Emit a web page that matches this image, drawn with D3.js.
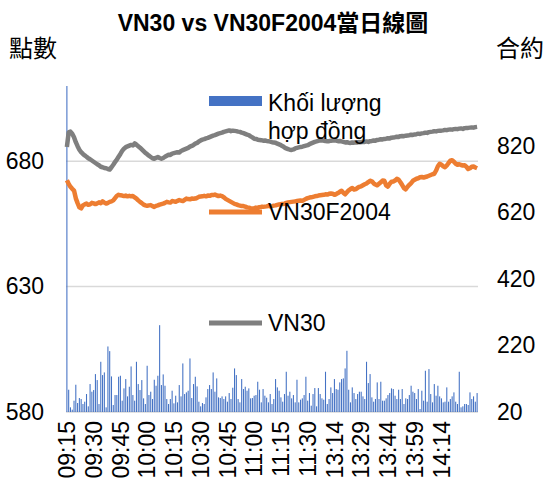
<!DOCTYPE html>
<html>
<head>
<meta charset="utf-8">
<script src="https://cdn.jsdelivr.net/npm/d3@7"></script>
<style>
  body { margin: 0; background: #fff; }
  svg { font-family: "Liberation Sans", Arial, "Noto Sans CJK TC", sans-serif; }
</style>
</head>
<body>
<div id="chart"></div>
<script>
// chart data

var titleText = "VN30 vs VN30F2004當日線圖";

// x tick labels, one every 15 minutes (1 point = 1 minute)
var tickLabels = ["09:15", "09:30", "09:45", "10:00", "10:15", "10:30", "10:45", "11:00",
    "11:15", "11:30", "13:14", "13:29", "13:44", "13:59", "14:14"];

var leftTicks = [580, 630, 680];
var rightTicks = [20, 220, 420, 620, 820];

// VN30 index (left axis)
var vn30 = [
    685.7, 691.5, 691.8, 691.0, 689.6, 687.6, 686.0, 684.6, 683.6, 682.9,
    682.3, 681.8, 681.2, 680.8, 680.3, 679.8, 679.3, 678.8, 678.4, 677.8,
    677.6, 677.3, 677.2, 676.9, 676.7, 677.6, 678.6, 679.7, 680.6, 681.8,
    682.9, 684.1, 685.0, 685.6, 685.9, 686.2, 686.5, 686.3, 687.1, 686.6,
    686.0, 685.4, 684.7, 684.0, 683.3, 682.8, 682.2, 681.7, 681.2, 681.0,
    681.4, 681.7, 681.3, 681.0, 681.3, 681.8, 682.2, 682.6, 682.5, 683.0,
    683.2, 683.4, 683.6, 683.5, 684.1, 684.4, 684.7, 685.0, 685.3, 685.8,
    686.1, 686.5, 687.0, 687.3, 687.9, 688.3, 688.6, 688.8, 689.1, 689.3,
    689.6, 689.9, 690.2, 690.4, 690.7, 691.0, 691.2, 691.4, 691.7, 691.9,
    692.1, 692.3, 692.0, 692.2, 692.1, 692.0, 691.8, 691.7, 691.4, 691.2,
    690.9, 690.6, 690.4, 689.9, 689.5, 689.0, 688.9, 688.6, 688.5, 688.4,
    688.2, 688.3, 688.1, 688.0, 687.8, 687.6, 687.5, 687.4, 687.0, 686.7,
    686.4, 686.0, 685.5, 685.1, 684.8, 684.6, 684.5, 684.7, 685.1, 685.3,
    685.5, 685.7, 685.8, 686.0, 686.2, 686.4, 686.8, 687.1, 687.4, 687.7,
    687.9, 688.1, 688.3, 688.4, 688.2, 688.1, 688.0, 688.0, 688.2, 688.3,
    688.4, 688.2, 688.0, 688.1, 687.9, 687.7, 687.5, 687.6, 687.4, 687.3,
    687.5, 687.4, 687.6, 687.5, 687.7, 687.6, 687.8, 687.7, 687.9, 687.7,
    688.0, 688.1, 688.3, 688.2, 688.5, 688.6, 688.8, 688.7, 688.9, 689.0,
    689.2, 689.1, 689.4, 689.5, 689.6, 689.8, 689.7, 690.0, 690.1, 690.0,
    690.2, 690.3, 690.4, 690.6, 690.5, 690.7, 690.8, 691.0, 690.9, 691.1,
    691.2, 691.4, 691.3, 691.6, 691.7, 691.8, 692.0, 691.9, 692.1, 692.2,
    692.2, 692.3, 692.5, 692.4, 692.6, 692.7, 692.6, 692.8, 692.9, 692.8,
    693.0, 693.1, 692.9, 693.2, 693.3, 693.3, 693.4, 693.5, 693.4, 693.6,
    693.7
];

// VN30F2004 futures (left axis)
var vn30f = [
    672.4, 671.0, 669.8, 669.0, 668.3, 665.2, 663.3, 661.6, 661.2, 662.4,
    662.8, 663.1, 662.6, 662.8, 663.4, 663.2, 662.9, 663.2, 663.6, 663.3,
    664.0, 663.5, 663.1, 663.4, 663.8, 664.0, 664.4, 665.3, 666.2, 666.6,
    666.4, 666.3, 666.1, 666.3, 666.0, 666.2, 666.0, 666.1, 665.6, 665.1,
    664.4, 663.8, 663.3, 662.7, 662.4, 662.2, 662.4, 662.5, 662.1, 661.8,
    662.2, 662.4, 662.7, 662.9, 663.1, 663.4, 663.8, 663.6, 663.5, 664.1,
    664.0, 663.8, 664.2, 664.5, 664.3, 664.1, 664.6, 665.1, 664.9, 664.8,
    665.1, 665.0, 665.1, 665.4, 665.8, 665.9, 666.0, 666.2, 666.0, 666.3,
    666.2, 666.5, 666.5, 666.7, 666.4, 666.1, 666.3, 666.1, 665.6, 665.0,
    664.6, 664.2, 663.8, 663.4, 663.0, 662.8, 662.5, 662.3, 662.1, 662.1,
    661.9, 661.6, 661.5, 661.3, 661.2, 661.3, 661.5, 661.4, 661.7, 661.8,
    661.8, 661.9, 662.0, 662.2, 662.0, 662.1, 662.3, 662.4, 662.6, 662.8,
    662.9, 662.9, 663.1, 663.4, 663.6, 663.7, 663.8, 663.9, 664.0, 664.1,
    664.2, 664.3, 664.2, 664.6, 665.0, 665.3, 665.5, 665.6, 665.8, 666.0,
    666.1, 666.3, 666.4, 666.5, 666.6, 666.8, 666.7, 667.0, 667.1, 667.0,
    666.6, 666.9, 667.3, 667.8, 668.2, 667.4, 666.8, 667.6, 668.4, 668.9,
    669.3, 668.7, 668.9, 669.4, 669.8, 670.0, 670.4, 670.8, 671.1, 671.7,
    672.2, 672.0, 671.2, 670.7, 670.4, 671.0, 671.6, 672.3, 672.2, 670.4,
    669.9, 671.0, 671.8, 671.9, 672.3, 673.0, 672.6, 671.6, 670.5, 669.3,
    668.8, 669.8, 670.6, 671.3, 672.2, 672.6, 673.0, 673.2, 673.6, 673.7,
    673.5, 673.7, 673.9, 674.2, 674.5, 674.8, 675.0, 676.3, 678.0, 679.0,
    678.6, 678.0, 677.6, 678.3, 679.3, 680.2, 680.4, 679.8, 679.0, 678.6,
    678.8, 678.5, 678.3, 678.4, 677.8, 676.9, 677.2, 677.8, 677.9, 677.5,
    677.2
];

// contract volume (right axis); the opening bar runs off the top
var volume = [
    1200,
    87, 34, 27, 54, 102, 47, 62, 59, 44, 51,
    74, 37, 104, 81, 86, 134, 116, 44, 171, 131,
    139, 34, 217, 203, 127, 41, 71, 71, 126, 129,
    54, 91, 119, 67, 96, 157, 71, 54, 171, 104,
    86, 116, 61, 44, 159, 71, 81, 59, 117, 99,
    129, 281, 101, 133, 99, 59, 44, 59, 84, 46,
    69, 49, 101, 67, 166, 74, 79, 84, 181, 62,
    104, 126, 97, 51, 37, 47, 44, 64, 89, 101,
    89, 139, 81, 121, 64, 62, 67, 59, 67, 51,
    77, 59, 93, 151, 131, 59, 49, 119, 89, 96,
    84, 91, 61, 62, 69, 71, 111, 87, 49, 89,
    69, 63, 49,
    74, 44, 59, 119, 94, 84, 64, 51, 74, 141,
    69, 81, 61, 71, 49, 117, 49, 57, 61, 71,
    126, 54, 77, 39, 74, 92, 37, 92, 74, 61,
    57, 141, 44, 59, 94, 77, 119, 89, 87, 109,
    119, 121, 151, 204, 87, 49, 94, 77, 59, 74,
    81, 81, 67, 59, 171, 107, 134, 64, 51, 59,
    109, 59, 111, 54, 54, 61, 71, 77, 91, 89,
    69, 59, 87, 59, 89, 44, 61, 59, 71, 99,
    81, 77, 59, 89, 29, 84, 54, 144, 51, 149,
    74, 49, 104, 69, 99, 67, 61, 49, 51, 94,
    51, 59, 67, 79, 51, 44, 141, 34, 37, 44,
    44, 41, 79, 59, 67, 51, 77
];

var width = 548, height = 483;
var plot = { left: 66, right: 478, top: 86, bottom: 412 };
var font = 23;

var svg = d3.select("#chart").append("svg")
    .attr("width", width)
    .attr("height", height);

var N = volume.length;
var x = d3.scaleBand()
    .domain(d3.range(N))
    .range([plot.left, plot.right]);

var yLeft = d3.scaleLinear().domain([580, 710]).range([plot.bottom, plot.top]);
var yRight = d3.scaleLinear().domain([20, 1000]).range([plot.bottom, plot.top]);

svg.append("clipPath").attr("id", "plotClip")
    .append("rect")
    .attr("x", plot.left).attr("y", plot.top)
    .attr("width", plot.right - plot.left)
    .attr("height", plot.bottom - plot.top);

// gridlines
svg.append("g").selectAll("line")
    .data(leftTicks)
    .enter().append("line")
    .attr("x1", plot.left).attr("x2", plot.right)
    .attr("y1", function(d) { return yLeft(d); })
    .attr("y2", function(d) { return yLeft(d); })
    .attr("stroke", "#d9d9d9")
    .attr("stroke-width", 1.5);

// volume bars
svg.append("g")
    .attr("clip-path", "url(#plotClip)")
    .selectAll("rect")
    .data(volume)
    .enter().append("rect")
    .attr("x", function(d, i) { return x(i) + x.bandwidth() * 0.2; })
    .attr("width", x.bandwidth() * 0.6)
    .attr("y", function(d) { return yRight(d); })
    .attr("height", function(d) { return plot.bottom - yRight(d); })
    .attr("fill", "#4472c4");

// lines
var lineLeft = d3.line()
    .x(function(d, i) { return x(i) + x.bandwidth() / 2; })
    .y(function(d) { return yLeft(d); });

svg.append("path")
    .datum(vn30)
    .attr("d", lineLeft)
    .attr("fill", "none")
    .attr("stroke", "#7f7f7f")
    .attr("stroke-width", 4.5)
    .attr("stroke-linejoin", "round");

svg.append("path")
    .datum(vn30f)
    .attr("d", lineLeft)
    .attr("fill", "none")
    .attr("stroke", "#ed7d31")
    .attr("stroke-width", 4.5)
    .attr("stroke-linejoin", "round");

// axes
var xAxis = d3.axisBottom(x)
    .tickValues(d3.range(0, N, 15).slice(0, tickLabels.length))
    .tickFormat(function(d) { return tickLabels[d / 15]; })
    .tickSize(0);

var gx = svg.append("g")
    .attr("transform", "translate(0," + plot.bottom + ")")
    .call(xAxis);
gx.select(".domain").remove();
gx.selectAll("text")
    .attr("transform", "rotate(-90)")
    .attr("text-anchor", "end")
    .attr("x", -9)
    .attr("y", 0)
    .attr("dy", "0.36em");

var gl = svg.append("g")
    .attr("transform", "translate(" + plot.left + ",0)")
    .call(d3.axisLeft(yLeft).tickValues(leftTicks).tickSize(0).tickPadding(22));
gl.select(".domain").remove();

var gr = svg.append("g")
    .attr("transform", "translate(" + plot.right + ",0)")
    .call(d3.axisRight(yRight).tickValues(rightTicks).tickSize(0).tickPadding(19));
gr.select(".domain").remove();

svg.selectAll(".tick text")
    .attr("font-size", font)
    .attr("font-family", null)
    .attr("fill", "#000");

// title and axis titles
svg.append("text")
    .attr("x", 273).attr("y", 31)
    .attr("text-anchor", "middle")
    .attr("font-size", font)
    .attr("font-weight", "bold")
    .text(titleText);

svg.append("text")
    .attr("x", 9).attr("y", 57)
    .attr("font-size", 24)
    .text("點數");

svg.append("text")
    .attr("x", 496).attr("y", 57)
    .attr("font-size", 24)
    .text("合約");

// legend, sitting inside the plot area
var legend = svg.append("g").attr("font-size", font);

legend.append("rect")
    .attr("x", 209).attr("y", 96)
    .attr("width", 53).attr("height", 10)
    .attr("fill", "#4472c4");
legend.append("text").attr("x", 268).attr("y", 111).text("Khối lượng");
legend.append("text").attr("x", 268).attr("y", 139).text("hợp đồng");

legend.append("line")
    .attr("x1", 209).attr("x2", 262)
    .attr("y1", 212).attr("y2", 212)
    .attr("stroke", "#ed7d31").attr("stroke-width", 5);
legend.append("text").attr("x", 268).attr("y", 220).text("VN30F2004");

legend.append("line")
    .attr("x1", 209).attr("x2", 262)
    .attr("y1", 323).attr("y2", 323)
    .attr("stroke", "#7f7f7f").attr("stroke-width", 5);
legend.append("text").attr("x", 268).attr("y", 331).text("VN30");
</script>
</body>
</html>
